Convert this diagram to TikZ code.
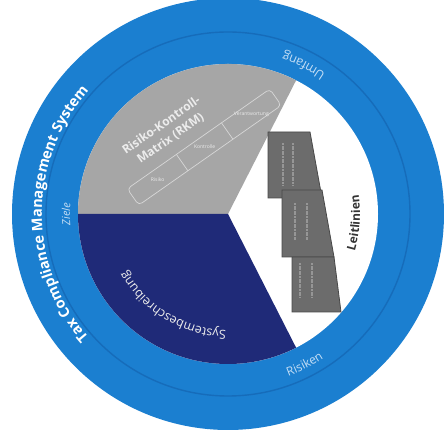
\documentclass[tikz,border=0pt]{standalone}
\usepackage{fontspec}
\setmainfont{Open Sans}
\usetikzlibrary{decorations.text,calc}
\definecolor{ringblue}{RGB}{27,127,208}
\definecolor{ringline}{RGB}{22,108,186}
\definecolor{navy}{RGB}{31,42,120}
\definecolor{pgray}{RGB}{166,166,166}
\definecolor{docgray}{RGB}{108,108,108}
\definecolor{docedge}{RGB}{72,72,72}
\definecolor{docstrip}{RGB}{150,150,150}
\definecolor{lblue}{RGB}{196,222,245}
\definecolor{graytext}{RGB}{236,236,236}
\tikzset{
  arctext/.style={decorate, decoration={text along path, text align=center, text color=#1}},
  docshape/.style={fill=docgray, draw=docedge, line width=0.8pt},
  docline/.style={draw=docstrip, line width=1.4pt, dash pattern=on 2pt off 0.6pt},
  rkmbox/.style={draw=graytext!70!pgray, line width=0.7pt, rounded corners=4pt},
  celltext/.style={text=graytext, font=\fontsize{5}{6}\selectfont, inner sep=0pt}
}
\begin{document}
\begin{tikzpicture}[x=1pt,y=1pt]
\useasboundingbox (0,0) rectangle (444,441);
\fill[white] (0,0) rectangle (444,441);
\coordinate (C) at (228,227);
% rings
\fill[ringblue] (C) circle (216);
\draw[ringline, line width=1.4pt] (C) circle (182);
% pie
\fill[white] (C) circle (150);
\fill[pgray] (C) -- ++(63:150) arc (63:180:150) -- cycle;
\fill[navy] (C) -- ++(180:150) arc (180:297:150) -- cycle;
% ring texts
\path[arctext=white, decoration={text={|\bfseries\fontsize{14.5}{15}\selectfont|Tax Compliance Management System}}]
  ($(C)+(238:186)$) arc (238:122:186);
\path[arctext=lblue, decoration={text={|\itshape\fontsize{11}{12}\selectfont|Ziele}}]
  ($(C)+(200:158)$) arc (200:160:158);
\path[arctext=lblue, decoration={text={|\fontsize{12.5}{13}\selectfont|Umfang}}]
  ($(C)+(40:171)$) arc (40:86:171);
\path[arctext=lblue, decoration={text={|\fontsize{12}{13}\selectfont|Risiken}}]
  ($(C)+(-86:173)$) arc (-86:-40:173);
% sector texts
\path[arctext=graytext, decoration={text={|\fontsize{12.5}{13}\selectfont|Systembeschreibung}}]
  ($(C)+(286:116)$) arc (286:192:116);
% RKM
\node[text=graytext, font=\bfseries\fontsize{12}{16}\selectfont, align=center, rotate=35, inner sep=0pt] (rkm) at (166,309) {Risiko-Kontroll-\\Matrix (RKM)};
\begin{scope}[shift={(133,244)}, rotate=35]
  \draw[rkmbox] (0,-10) rectangle (174,10);
  \draw[rkmbox] (60,-10) -- (60,10);
  \draw[rkmbox] (115,-10) -- (115,10);
  \node[celltext] (c1) at (30,0) {Risiko};
  \node[celltext] (c2) at (87.5,0) {Kontrolle};
  \node[celltext] (c3) at (144.5,0) {Verantwortung};
\end{scope}
% Leitlinien documents
\draw[docshape] (268,309) -- (310,309) -- (322,243) -- (268,243) -- cycle;
\draw[docline] (283,298) -- (283,256);
\draw[docline] (293,298) -- (293,256);
\draw[docshape] (282,251) -- (322,251) -- (334,184) -- (282,184) -- cycle;
\draw[docline] (295,238) -- (295,201);
\draw[docline] (307,238) -- (307,201);
\draw[docshape] (292,184) -- (334,184) -- (341,129) -- (292,129) -- cycle;
\draw[docline] (300,178) -- (300,144);
\draw[docline] (312,178) -- (312,144);
\path[arctext=black!80, decoration={text={|\bfseries\fontsize{12}{13}\selectfont|Leitlinien}}]
  ($(C)+(-30:132)$) arc (-30:22:132);
\end{tikzpicture}
\end{document}
